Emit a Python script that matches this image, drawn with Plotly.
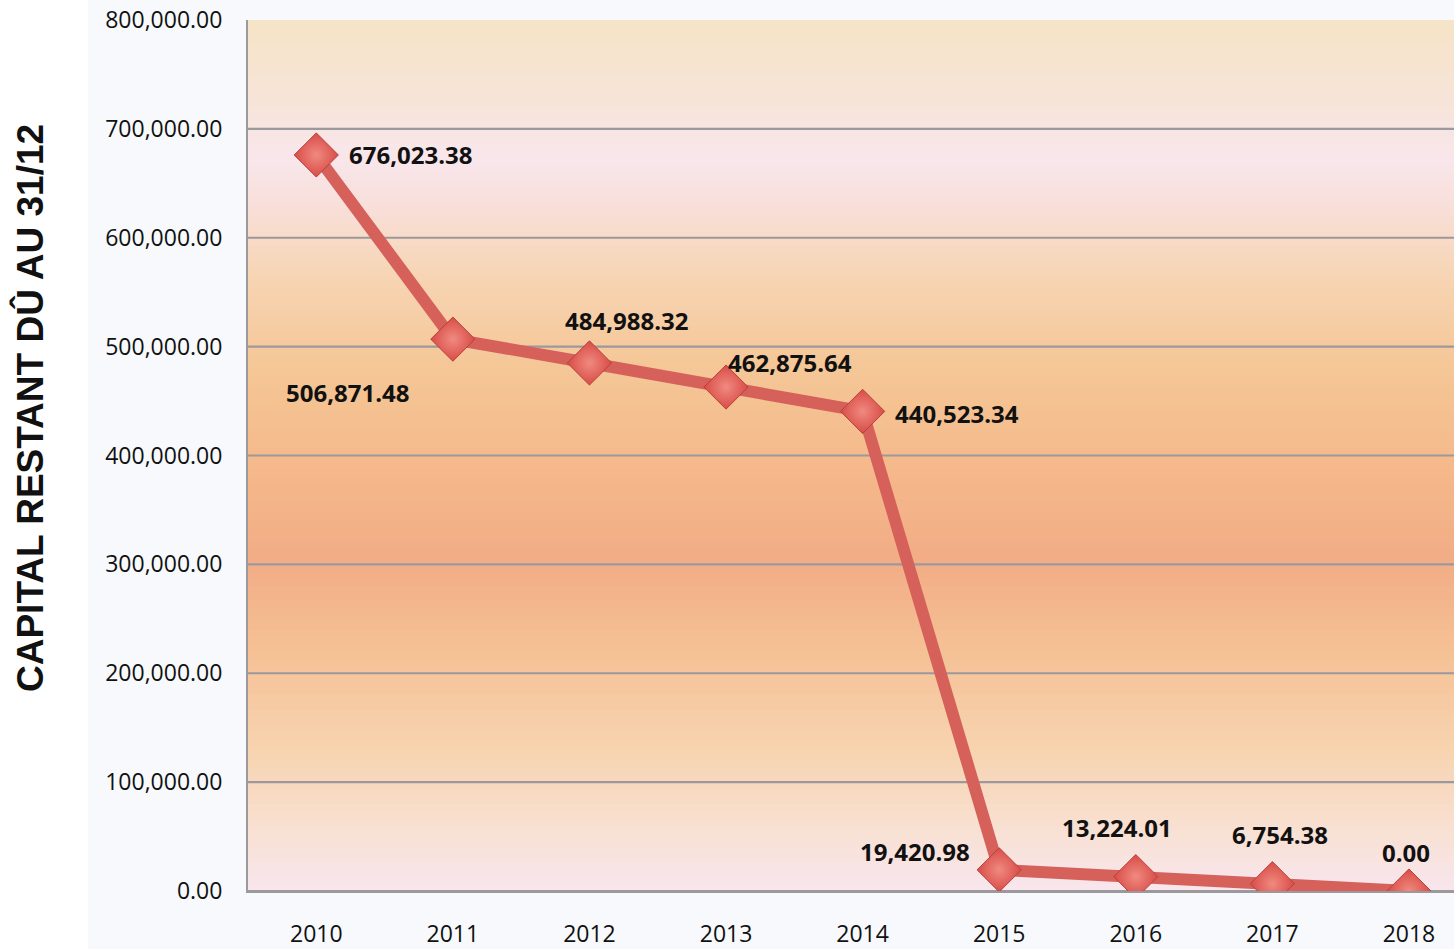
import plotly.graph_objects as go

years = ["2010", "2011", "2012", "2013", "2014", "2015", "2016", "2017", "2018"]
capital = [676023.38, 506871.48, 484988.32, 462875.64, 440523.34,
           19420.98, 13224.01, 6754.38, 0.00]
y_ticks = [0, 100000, 200000, 300000, 400000, 500000, 600000, 700000, 800000]
y_title = "CAPITAL RESTANT DÛ AU 31/12"

# label offsets (pixels) relative to each point — styling only
label_dx = [94, -105, 37, 64, 94, -84, -19, 8, -3]
label_dy = [0, -53, 42, 25, -2, 18, 49, 49, 39]

# background gradient stops (fraction from top of plot area, colour)
stops = [
    (0.00, (245, 228, 198)),
    (0.10, (247, 228, 218)),
    (0.16, (248, 230, 236)),
    (0.22, (248, 222, 214)),
    (0.30, (247, 212, 178)),
    (0.40, (245, 198, 150)),
    (0.52, (245, 184, 138)),
    (0.62, (242, 172, 134)),
    (0.72, (245, 192, 148)),
    (0.84, (247, 212, 176)),
    (0.93, (248, 224, 210)),
    (1.00, (248, 230, 238)),
]


def interp(t):
    for (t0, c0), (t1, c1) in zip(stops[:-1], stops[1:]):
        if t0 <= t <= t1:
            f = (t - t0) / (t1 - t0) if t1 > t0 else 0
            return tuple(round(a + (b - a) * f) for a, b in zip(c0, c1))
    return stops[-1][1]


# plot area in page pixels
L, T, W, H = 248, 20, 1206, 875
B = 54

shapes = []
# light grey-blue panel behind the tick labels
shapes.append(dict(type="rect", xref="paper", yref="paper",
                   x0=-(L - 88) / W, x1=1, y0=-(B + 10) / H, y1=1 + T / H,
                   fillcolor="#f7f9fc", line=dict(width=0), layer="below"))
n = 120
for i in range(n):
    t_top = i / n
    t_bot = (i + 1) / n
    c = interp((t_top + t_bot) / 2)
    shapes.append(dict(type="rect", xref="paper", yref="paper",
                       x0=0, x1=1, y0=max(0, 1 - t_bot - 0.001), y1=1 - t_top,
                       fillcolor="rgb(%d,%d,%d)" % c, line=dict(width=0),
                       layer="below"))

for v in y_ticks[:-1]:
    shapes.append(dict(type="line", xref="paper", yref="y", x0=0, x1=1,
                       y0=v, y1=v, line=dict(color="#9b999c", width=2.2),
                       layer="between"))

fig = go.Figure()
fig.add_trace(go.Scatter(
    x=years, y=capital, mode="lines+markers",
    line=dict(color="#d6615b", width=12),
    marker=dict(symbol="diamond", size=34, color="#d84c47",
                gradient=dict(type="radial", color="#f08a80"),
                line=dict(color="#b8403c", width=1)),
    hoverinfo="skip", showlegend=False,
))

annotations = []
for i, (v, dx, dy) in enumerate(zip(capital, label_dx, label_dy)):
    annotations.append(dict(x=i, y=v, xref="x", yref="y", text=f"{v:,.2f}",
                            showarrow=False, xshift=dx, yshift=dy,
                            font=dict(family="Open Sans", size=24, color="#111111",
                                      weight="bold")))
annotations.append(dict(x=-(L - 30) / W, y=(891 - 408) / 871,
                        xref="paper", yref="paper", text=y_title,
                        showarrow=False, textangle=-90,
                        xanchor="center", yanchor="middle",
                        font=dict(family="Liberation Sans", size=37, color="#111111",
                                  weight="bold")))

fig.update_layout(
    width=1454, height=949,
    margin=dict(l=L, r=0, t=T, b=B, pad=0),
    paper_bgcolor="#ffffff", plot_bgcolor="#f6d0a8",
    shapes=shapes, annotations=annotations,
    font=dict(family="Open Sans", size=23, color="#111111"),
    xaxis=dict(type="category", range=[-0.5, 8.33], showgrid=False,
               showline=True, linecolor="#9b999c", linewidth=2,
               ticks="", ticklabelstandoff=21, fixedrange=True),
    yaxis=dict(range=[0, 800000], tickvals=y_ticks, tickformat=",.2f",
               showgrid=False, zeroline=False, showline=True,
               linecolor="#9b999c", linewidth=2, ticks="",
               ticklabelstandoff=19, ticklabeloverflow="allow", fixedrange=True),
)

fig.write_html("out.html", config={"displayModeBar": False, "staticPlot": True},
               post_script="document.body.style.margin='0';document.body.style.overflow='hidden';")
